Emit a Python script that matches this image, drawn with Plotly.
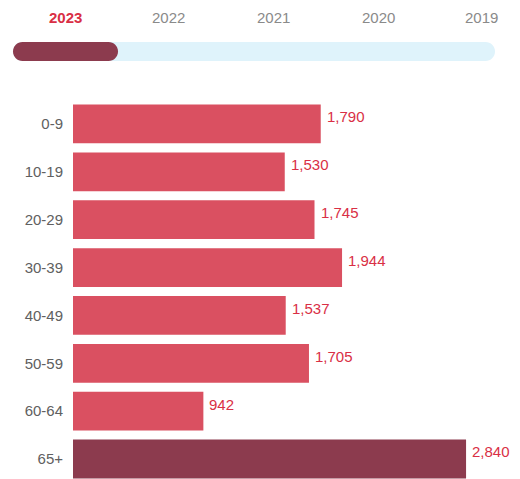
import plotly.graph_objects as go

categories = ["0-9", "10-19", "20-29", "30-39", "40-49", "50-59", "60-64", "65+"]
values = [1790, 1530, 1745, 1944, 1537, 1705, 942, 2840]
years = ["2023", "2022", "2021", "2020", "2019"]
active_year = "2023"

BAR = "#da5061"
BAR_DARK = "#8c3b4e"
LABEL = "#d92f45"
TICK = "#606060"
TRACK = "#dff3fb"

OFF = 8  # page body margin
W, H = 520 - OFF, 479 - OFF
ML, MR, MT, MB = 73 - OFF, 0, 100 - OFF, 0
PW = W - ML - MR
PH = H - MT - MB

colors = [BAR_DARK if c == "65+" else BAR for c in categories]

fig = go.Figure(go.Bar(
    x=values, y=categories, orientation="h",
    marker=dict(color=colors, line=dict(width=0)),
    hoverinfo="skip",
))

# value labels
for c, v in zip(categories, values):
    fig.add_annotation(x=v, y=c, xref="x", yref="y", text=f"{v:,}",
                       showarrow=False, xanchor="left", yanchor="middle",
                       xshift=4, yshift=7,
                       font=dict(size=15, color=LABEL, family="Liberation Sans, Arial"))

# year tabs
tab_px = [65, 168, 273, 378, 481]
for yr, px in zip(years, tab_px):
    active = yr == active_year
    fig.add_annotation(x=(px - OFF - ML) / PW, y=1, xref="paper", yref="paper",
                       yshift=MT - (17 - OFF), text=f"<b>{yr}</b>" if active else yr,
                       showarrow=False, xanchor="center", yanchor="middle",
                       font=dict(size=15, color=LABEL if active else "#8a8a8a",
                                 family="Liberation Sans, Arial"))


def pill(a, b, c, d):
    r = (d - c) / 2
    k = 0.5523 * r
    ym = (c + d) / 2
    return (f"M {a+r},{c} L {b-r},{c} C {b-r+k},{c} {b},{ym-k} {b},{ym} "
            f"C {b},{ym+k} {b-r+k},{d} {b-r},{d} L {a+r},{d} "
            f"C {a+r-k},{d} {a},{ym+k} {a},{ym} C {a},{ym-k} {a+r-k},{c} {a+r},{c} Z")


for (x0, x1, col) in [(13, 495, TRACK), (13, 118, BAR_DARK)]:
    fig.add_shape(type="path", xref="paper", yref="paper",
                  xsizemode="pixel", ysizemode="pixel", xanchor=0, yanchor=1,
                  path=pill(x0 - OFF - ML, x1 - OFF - ML,
                            MT - (61 - OFF), MT - (42 - OFF)),
                  fillcolor=col, line=dict(width=0), layer="above")

fig.update_layout(
    width=W, height=H,
    margin=dict(l=ML, r=MR, t=MT, b=MB),
    paper_bgcolor="white", plot_bgcolor="white",
    showlegend=False, bargap=0.19,
    xaxis=dict(range=[0, PW / 0.1384], visible=False, fixedrange=True),
    yaxis=dict(categoryorder="array", categoryarray=categories,
               range=[len(categories) - 1 + 0.418, -0.5],
               showgrid=False, zeroline=False, showline=False, ticks="",
               ticklabelstandoff=9,
               tickfont=dict(size=15, color=TICK, family="Liberation Sans, Arial")),
    font=dict(family="Liberation Sans, Arial"),
)

fig.write_html("out.html")
